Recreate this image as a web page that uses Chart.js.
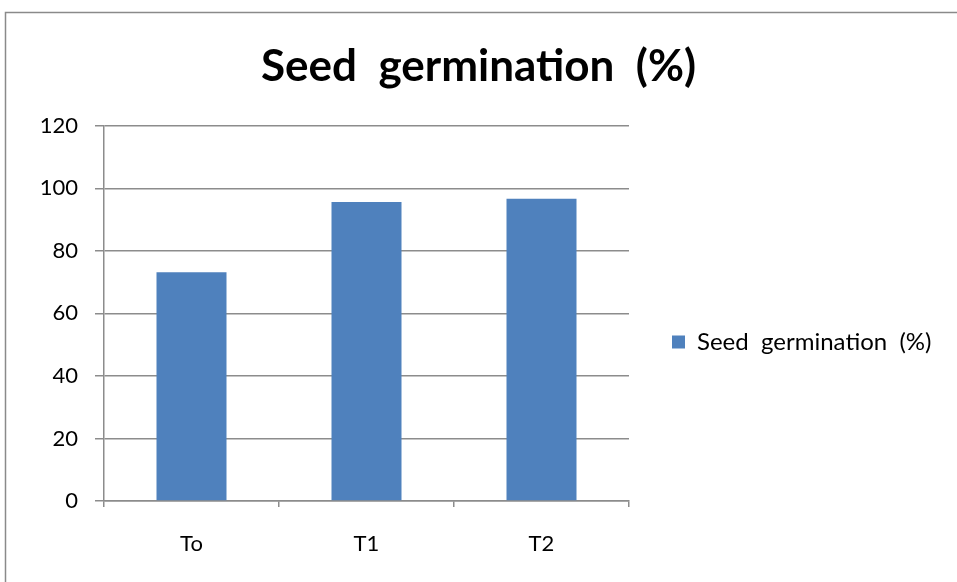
<!DOCTYPE html>
<html>
<head>
<meta charset="utf-8">
<script src="https://cdn.jsdelivr.net/npm/chart.js@4.4.0/dist/chart.umd.min.js"></script>
<style>
  html, body { margin: 0; padding: 0; background: #fff; }
  #wrap { width: 957px; height: 582px; }
</style>
</head>
<body>
<div id="wrap"><canvas id="germChart" width="957" height="582"></canvas></div>
<script>
const categories = ['To', 'T1', 'T2'];
const germination = [73.2, 95.6, 96.7];
const yTicks = [0, 20, 40, 60, 80, 100, 120];

const gridGray = '#8c8c8c';
const barBlue = '#4f81bd';

// draws the outer frame of the chart object
const framePlugin = {
  id: 'frame',
  beforeDraw(chart) {
    const c = chart.ctx;
    c.save();
    c.strokeStyle = '#8a8a8a';
    c.lineWidth = 1.5;
    c.strokeRect(5.5, 12.5, 1000, 700);
    c.restore();
  }
};

// fix legend box width so the plot area ends where the reference does,
// and push the legend down a bit
const legendWidthPlugin = {
  id: 'legendWidth',
  afterInit(chart) {
    const lg = chart.legend;
    if (!lg) return;
    const fit = lg.fit;
    lg.fit = function () {
      fit.call(this);
      this.width = 328;
    };
  },
  afterLayout(chart) {
    const lg = chart.legend;
    if (!lg) return;
    lg.top += 51;
    lg.bottom += 51;
  }
};

const data = {
  labels: categories,
  datasets: [{
    label: 'Seed  germination  (%)',
    data: germination,
    backgroundColor: barBlue,
    borderWidth: 0,
    barPercentage: 0.4,
    categoryPercentage: 1.0,
  }],
};

const options = {
  responsive: false,
  animation: false,
  layout: {
    padding: { left: 0, right: 0, top: 0, bottom: 0 }
  },
  plugins: {
    title: {
      display: true,
      text: 'Seed  germination  (%)',
      color: '#000',
      font: { family: 'Lato', size: 44, weight: 'bold' },
      padding: { top: 40, bottom: 33 },
    },
    legend: {
      display: true,
      position: 'right',
      align: 'center',
      labels: {
        boxWidth: 13,
        boxHeight: 13,
        padding: 43,
        color: '#000',
        font: { family: 'Lato', size: 24 },
      },
    },
    tooltip: { enabled: false },
  },
  scales: {
    x: {
      offset: true,
      grid: {
        offset: true,
        drawOnChartArea: false,
        color: gridGray,
        tickLength: 6,
        lineWidth: 1.5,
      },
      border: { color: gridGray, width: 1.5 },
      ticks: {
        color: '#000',
        padding: 24,
        font: { family: 'Lato', size: 22 },
      },
      afterFit(scale) { scale.height = 81; },
    },
    y: {
      min: 0,
      max: 120,
      afterBuildTicks(scale) {
        scale.ticks = yTicks.map(v => ({ value: v }));
      },
      grid: {
        color: gridGray,
        tickLength: 9,
        lineWidth: 1.5,
      },
      border: { color: gridGray, width: 1.5 },
      ticks: {
        color: '#000',
        padding: 17,
        font: { family: 'Lato', size: 22 },
      },
      afterFit(scale) { scale.width = 104; },
    },
  },
};

const ctx = document.getElementById('germChart').getContext('2d');
const germChart = new Chart(ctx, {
  type: 'bar',
  data: data,
  options: options,
  plugins: [framePlugin, legendWidthPlugin],
});
</script>
</body>
</html>
